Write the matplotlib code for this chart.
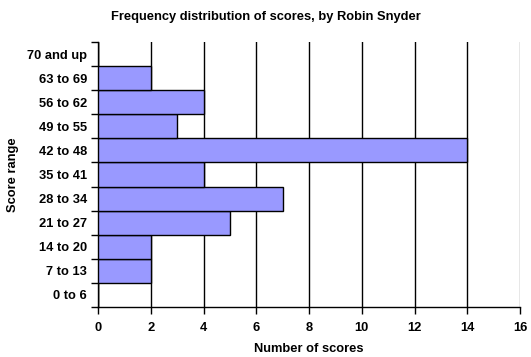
import matplotlib
matplotlib.use("Agg")
import matplotlib.pyplot as plt

# data, bottom to top
categorias = ["0 to 6", "7 to 13", "14 to 20", "21 to 27", "28 to 34", "35 to 41",
              "42 to 48", "49 to 55", "56 to 62", "63 to 69", "70 and up"]
conteos = [0, 2, 2, 5, 7, 4, 14, 3, 4, 2, 0]
ticks_x = [0, 2, 4, 6, 8, 10, 12, 14, 16]

plt.rcParams['font.family'] = ['Liberation Sans', 'DejaVu Sans']
plt.rcParams['font.weight'] = 'bold'
tam = 9.3

fig = plt.figure(figsize=(5.31, 3.57), dpi=100)
ax = fig.add_axes([98/531, 50/357, 422/531, 265/357])

pos = list(range(len(categorias)))
ax.barh(pos, conteos, height=1.0, color='#9999FF', edgecolor='black', linewidth=1.0, zorder=3)

ax.set_xlim(0, 16)
ax.set_ylim(-0.5, len(categorias) - 0.5)
ax.set_xticks(ticks_x)
ax.set_xticklabels([str(t) for t in ticks_x], fontsize=tam, fontweight='bold')
ax.set_yticks([p - 0.5 for p in pos] + [len(pos) - 0.5], minor=False)
ax.set_yticklabels([])
ax.set_yticks(pos, minor=True)
ax.set_yticklabels(categorias, minor=True, fontsize=tam, fontweight='bold')
ax.tick_params(axis='y', which='minor', length=0, pad=8)
ax.tick_params(axis='y', which='major', length=5, width=1, color='black')
ax.tick_params(axis='x', length=5, width=1, pad=6)

ax.xaxis.grid(True, color='black', linewidth=1, zorder=0)
ax.get_xgridlines()[-1].set_color('#888888')
ax.spines['top'].set_visible(False)
ax.spines['right'].set_visible(False)
ax.spines['left'].set_linewidth(1)
ax.spines['bottom'].set_linewidth(1)

fig.text(0.5, 1 - 17/357, "Frequency distribution of scores, by Robin Snyder",
         ha='center', va='center', fontsize=tam, fontweight='bold')
ax.set_xlabel("Number of scores", fontsize=tam, fontweight='bold', labelpad=6)
ax.set_ylabel("Score range", fontsize=tam, fontweight='bold', labelpad=6)

fig.savefig("out.png", dpi=100)
